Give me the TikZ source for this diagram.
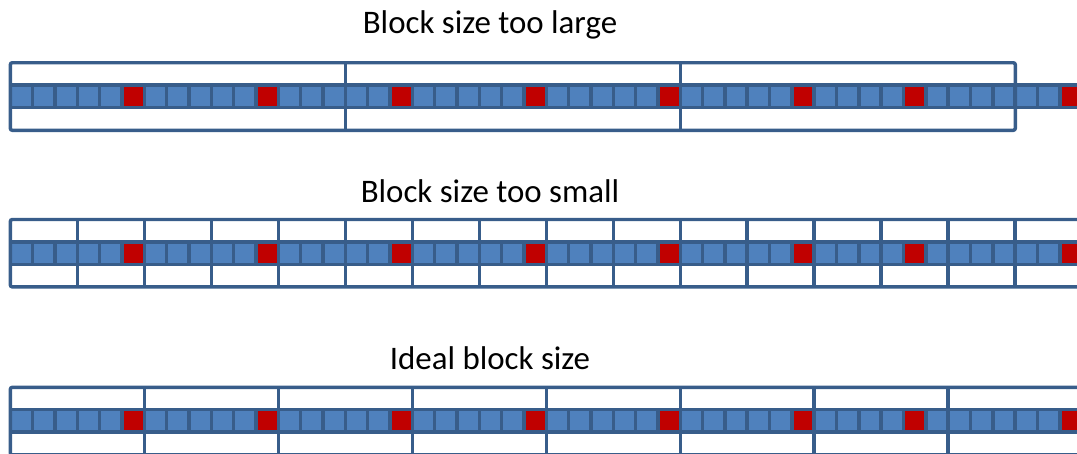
\documentclass[tikz,border=0pt]{standalone}
\usepackage{fontspec}
\setmainfont{Carlito}
\definecolor{cellfill}{HTML}{4F81BD}
\definecolor{celledge}{HTML}{385D8A}
\definecolor{hot}{HTML}{C00000}

\begin{document}
\begin{tikzpicture}[x=1pt,y=-1pt,
  cell/.style={draw=celledge, line width=3.4pt, fill=cellfill,
    minimum size=22.33pt, inner sep=0pt, outer sep=0pt},
  hotcell/.style={cell, fill=hot},
  frame/.style={draw=celledge, line width=3.4pt},
  title/.style={font=\fontsize{32.9}{39}\selectfont, anchor=base, text=black, inner sep=0pt}]

\useasboundingbox (0,0) rectangle (1077,453);
\clip (0,0) rectangle (1077,453);

% titles
\node[title] (t1) at (490,33)  {Block size too large};
\node[title] (t2) at (490,202) {Block size too small};
\node[title] (t3) at (490,369) {Ideal block size};

% rows of cells, the hot ones in red
\foreach \f/\T in {1/62.7, 2/219.5, 3/387.3} {
  \foreach \i in {0,...,47} {
    \pgfmathtruncatemacro\isred{(\i==5)||(\i==11)||(\i==17)||(\i==23)||(\i==29)||(\i==35)||(\i==40)||(\i==47)}
    \ifnum\isred=1 \def\sty{hotcell}\else\def\sty{cell}\fi
    \node[\sty] (c\f-\i) at ({10.3+22.33*(\i+0.5)}, {\T+33.6}) {};
  }
}

% block frames: too large (15 cells per block)
\draw[frame, rounded corners=2pt] (10.3,62.7) rectangle (1015.3,130.3);
\foreach \k in {1,2} \draw[frame] ({10.3+334.95*\k},62.7) -- ({10.3+334.95*\k},130.3);

% too small (3 cells per block)
\draw[frame, rounded corners=2pt] (1100,219.5) -- (10.3,219.5) -- (10.3,286.9) -- (1100,286.9);
\foreach \k in {1,...,15} \draw[frame] ({10.3+66.99*\k},219.5) -- ({10.3+66.99*\k},286.9);

% ideal (6 cells per block)
\draw[frame, rounded corners=2pt] (1100,387.3) -- (10.3,387.3) -- (10.3,454.9) -- (1100,454.9);
\foreach \k in {1,...,7} \draw[frame] ({10.3+133.98*\k},387.3) -- ({10.3+133.98*\k},454.9);
\end{tikzpicture}
\end{document}
